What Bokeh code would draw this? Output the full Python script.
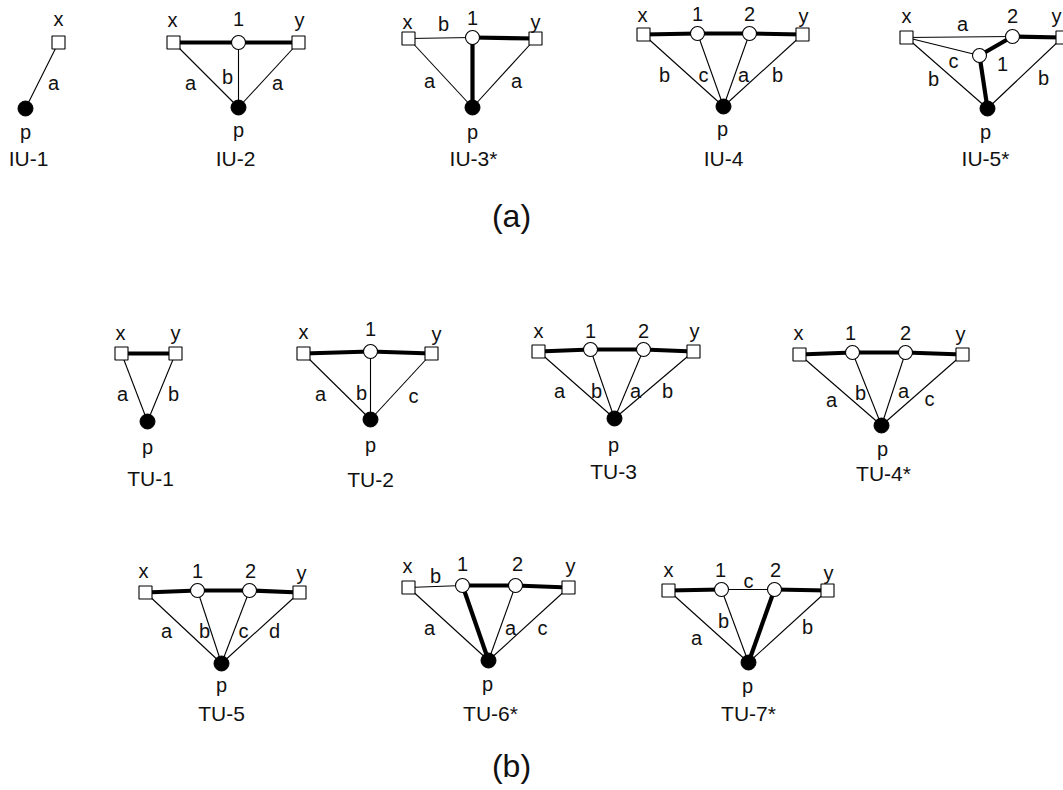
from bokeh.plotting import figure
from bokeh.models import Range1d, ColumnDataSource
from bokeh.embed import file_html
from bokeh.resources import INLINE
from bokeh.core.properties import value

FONT = "Liberation Sans"

# ---------------- data: one small record per motif ----------------
# node: names, nx/ny: node positions, kind: sq (terminal), open (intermediate), solid (p)
# node label positions: lx/ly ; edges: e_from, e_to, e_w (thin/thick), e_lab, elx/ely

IU1 = dict(name="IU-1", tx=28, ty=158,
           node=["x", "p"], kind=["sq", "solid"], nx=[58, 25], ny=[42, 108],
           lx=[58, 25], ly=[18, 131],
           e_from=["x"], e_to=["p"], e_w=["thin"], e_lab=["a"], elx=[53], ely=[82])

IU2 = dict(name="IU-2", tx=235, ty=158,
           node=["x", "1", "y", "p"], kind=["sq", "open", "sq", "solid"],
           nx=[173, 238, 298, 238], ny=[42, 42, 42, 107],
           lx=[172, 238, 299, 238], ly=[19, 18, 19, 129],
           e_from=["x", "1", "x", "1", "y"], e_to=["1", "y", "p", "p", "p"],
           e_w=["thick", "thick", "thin", "thin", "thin"],
           e_lab=["", "", "a", "b", "a"], elx=[0, 0, 190, 227, 277], ely=[0, 0, 82, 76, 82])

IU3 = dict(name="IU-3*", tx=473, ty=158,
           node=["x", "1", "y", "p"], kind=["sq", "open", "sq", "solid"],
           nx=[408, 472, 535, 472], ny=[38, 37, 38, 107],
           lx=[407, 472, 535, 472], ly=[21, 17, 21, 131],
           e_from=["x", "1", "1", "x", "y"], e_to=["1", "y", "p", "p", "p"],
           e_w=["thin", "thick", "thick", "thin", "thin"],
           e_lab=["b", "", "", "a", "a"], elx=[443, 0, 0, 429, 516], ely=[23, 0, 0, 80, 80])

IU4 = dict(name="IU-4", tx=723, ty=158,
           node=["x", "1", "2", "y", "p"], kind=["sq", "open", "open", "sq", "solid"],
           nx=[643, 697, 749, 802, 723], ny=[34, 33, 33, 34, 106],
           lx=[642, 697, 749, 803, 722], ly=[14, 13, 13, 15, 128],
           e_from=["x", "1", "2", "x", "1", "2", "y"], e_to=["1", "2", "y", "p", "p", "p", "p"],
           e_w=["thick", "thick", "thick", "thin", "thin", "thin", "thin"],
           e_lab=["", "", "", "b", "c", "a", "b"],
           elx=[0, 0, 0, 664, 703, 743, 777], ely=[0, 0, 0, 74, 74, 74, 74])

IU5 = dict(name="IU-5*", tx=985, ty=158,
           node=["x", "2", "y", "1", "p"], kind=["sq", "open", "sq", "open", "solid"],
           nx=[906, 1012, 1062, 979, 987], ny=[37, 36, 37, 55, 108],
           lx=[906, 1012, 1056, 1002, 985], ly=[15, 15, 15, 63, 131],
           e_from=["x", "x", "x", "1", "2", "1", "y"], e_to=["2", "1", "p", "2", "y", "p", "p"],
           e_w=["thin", "thin", "thin", "thick", "thick", "thick", "thin"],
           e_lab=["a", "c", "b", "", "", "", "b"],
           elx=[962, 953, 933, 0, 0, 0, 1043], ely=[23, 60, 78, 0, 0, 0, 77])

TU1 = dict(name="TU-1", tx=150, ty=478,
           node=["x", "y", "p"], kind=["sq", "sq", "solid"],
           nx=[121, 175, 147], ny=[353, 353, 421],
           lx=[120, 175, 147], ly=[332, 332, 446],
           e_from=["x", "x", "y"], e_to=["y", "p", "p"], e_w=["thick", "thin", "thin"],
           e_lab=["", "a", "b"], elx=[0, 122, 173], ely=[0, 393, 393])

TU2 = dict(name="TU-2", tx=370, ty=479,
           node=["x", "1", "y", "p"], kind=["sq", "open", "sq", "solid"],
           nx=[303, 370, 431, 370], ny=[353, 351, 353, 419],
           lx=[303, 370, 436, 370], ly=[331, 328, 333, 444],
           e_from=["x", "1", "x", "1", "y"], e_to=["1", "y", "p", "p", "p"],
           e_w=["thick", "thick", "thin", "thin", "thin"],
           e_lab=["", "", "a", "b", "c"], elx=[0, 0, 320, 361, 413], ely=[0, 0, 393, 392, 395])

TU3 = dict(name="TU-3", tx=613, ty=471,
           node=["x", "1", "2", "y", "p"], kind=["sq", "open", "open", "sq", "solid"],
           nx=[538, 590, 643, 693, 614], ny=[351, 349, 349, 351, 418],
           lx=[538, 590, 643, 694, 613], ly=[330, 330, 330, 330, 444],
           e_from=["x", "1", "2", "x", "1", "2", "y"], e_to=["1", "2", "y", "p", "p", "p", "p"],
           e_w=["thick", "thick", "thick", "thin", "thin", "thin", "thin"],
           e_lab=["", "", "", "a", "b", "a", "b"],
           elx=[0, 0, 0, 559, 596, 635, 667], ely=[0, 0, 0, 390, 390, 390, 390])

TU4 = dict(name="TU-4*", tx=883, ty=473,
           node=["x", "1", "2", "y", "p"], kind=["sq", "open", "open", "sq", "solid"],
           nx=[799, 852, 905, 962, 881], ny=[354, 352, 352, 354, 425],
           lx=[798, 850, 905, 960, 882], ly=[332, 332, 332, 333, 448],
           e_from=["x", "1", "2", "x", "1", "2", "y"], e_to=["1", "2", "y", "p", "p", "p", "p"],
           e_w=["thick", "thick", "thick", "thin", "thin", "thin", "thin"],
           e_lab=["", "", "", "a", "b", "a", "c"],
           elx=[0, 0, 0, 831, 860, 903, 929], ely=[0, 0, 0, 399, 392, 390, 398])

TU5 = dict(name="TU-5", tx=221, ty=713,
           node=["x", "1", "2", "y", "p"], kind=["sq", "open", "open", "sq", "solid"],
           nx=[145, 197, 249, 299, 221], ny=[592, 590, 590, 592, 663],
           lx=[143, 197, 250, 301, 221], ly=[570, 570, 570, 572, 684],
           e_from=["x", "1", "2", "x", "1", "2", "y"], e_to=["1", "2", "y", "p", "p", "p", "p"],
           e_w=["thick", "thick", "thick", "thin", "thin", "thin", "thin"],
           e_lab=["", "", "", "a", "b", "c", "d"],
           elx=[0, 0, 0, 166, 204, 243, 274], ely=[0, 0, 0, 630, 630, 630, 630])

TU6 = dict(name="TU-6*", tx=490, ty=713,
           node=["x", "1", "2", "y", "p"], kind=["sq", "open", "open", "sq", "solid"],
           nx=[408, 462, 515, 568, 488], ny=[587, 585, 585, 587, 660],
           lx=[407, 462, 517, 570, 487], ly=[565, 563, 563, 565, 683],
           e_from=["x", "1", "2", "1", "x", "2", "y"], e_to=["1", "2", "y", "p", "p", "p", "p"],
           e_w=["thin", "thick", "thick", "thick", "thin", "thin", "thin"],
           e_lab=["b", "", "", "", "a", "a", "c"],
           elx=[435, 0, 0, 0, 429, 510, 542], ely=[575, 0, 0, 0, 627, 627, 627])

TU7 = dict(name="TU-7*", tx=748, ty=713,
           node=["x", "1", "2", "y", "p"], kind=["sq", "open", "open", "sq", "solid"],
           nx=[668, 721, 774, 827, 748], ny=[590, 589, 589, 590, 662],
           lx=[668, 720, 775, 828, 747], ly=[569, 569, 569, 572, 685],
           e_from=["x", "1", "2", "2", "x", "1", "y"], e_to=["1", "2", "y", "p", "p", "p", "p"],
           e_w=["thick", "thin", "thick", "thick", "thin", "thin", "thin"],
           e_lab=["", "c", "", "", "a", "b", "b"],
           elx=[0, 748, 0, 0, 696, 723, 807], ely=[0, 580, 0, 0, 637, 620, 626])

MOTIFS = [IU1, IU2, IU3, IU4, IU5, TU1, TU2, TU3, TU4, TU5, TU6, TU7]

GROUP_LABELS = ["(a)", "(b)"]
GROUP_X = [511, 511]
GROUP_Y = [215, 765]

# ---------------- build the figure ----------------
W, H = 1063, 790
p = figure(width=W, height=H, output_backend="svg", toolbar_location=None,
           x_range=Range1d(0, W), y_range=Range1d(H, 0),
           min_border=0, background_fill_color="white", border_fill_color="white")
p.axis.visible = False
p.grid.visible = False
p.outline_line_color = None

edges = dict(x0=[], y0=[], x1=[], y1=[], w=[])
elabs = dict(x=[], y=[], t=[])
nodes = {k: dict(x=[], y=[]) for k in ("sq", "open", "solid")}
nlabs = dict(x=[], y=[], t=[])
names = dict(x=[], y=[], t=[])

for m in MOTIFS:
    pos = {n: (x, y) for n, x, y in zip(m["node"], m["nx"], m["ny"])}
    for a, b, w, lab, lx, ly in zip(m["e_from"], m["e_to"], m["e_w"], m["e_lab"], m["elx"], m["ely"]):
        edges["x0"].append(pos[a][0]); edges["y0"].append(pos[a][1])
        edges["x1"].append(pos[b][0]); edges["y1"].append(pos[b][1])
        edges["w"].append(4.2 if w == "thick" else 1.1)
        if lab:
            elabs["x"].append(lx); elabs["y"].append(ly); elabs["t"].append(lab)
    for n, k, x, y, lx, ly in zip(m["node"], m["kind"], m["nx"], m["ny"], m["lx"], m["ly"]):
        nodes[k]["x"].append(x); nodes[k]["y"].append(y)
        nlabs["x"].append(lx); nlabs["y"].append(ly); nlabs["t"].append(n)
    names["x"].append(m["tx"]); names["y"].append(m["ty"]); names["t"].append(m["name"])

p.segment("x0", "y0", "x1", "y1", source=ColumnDataSource(edges),
          line_color="black", line_width="w", line_cap="butt")

p.scatter("x", "y", source=ColumnDataSource(nodes["sq"]), marker="square", size=13,
          fill_color="white", line_color="black", line_width=1.1)
p.scatter("x", "y", source=ColumnDataSource(nodes["open"]), marker="circle", size=14,
          fill_color="white", line_color="black", line_width=1.1)
p.scatter("x", "y", source=ColumnDataSource(nodes["solid"]), marker="circle", size=15,
          fill_color="black", line_color="black", line_width=1)

txt = dict(text_align="center", text_baseline="middle", text_color="#111111",
           text_font=value(FONT))
p.text("x", "y", "t", source=ColumnDataSource(elabs), text_font_size="20px", **txt)
p.text("x", "y", "t", source=ColumnDataSource(nlabs), text_font_size="20px", **txt)
p.text("x", "y", "t", source=ColumnDataSource(names), text_font_size="21px", **txt)
p.text(GROUP_X, GROUP_Y, GROUP_LABELS, text_font_size="32px", **txt)

open("out.html", "w").write(file_html(p, INLINE))
